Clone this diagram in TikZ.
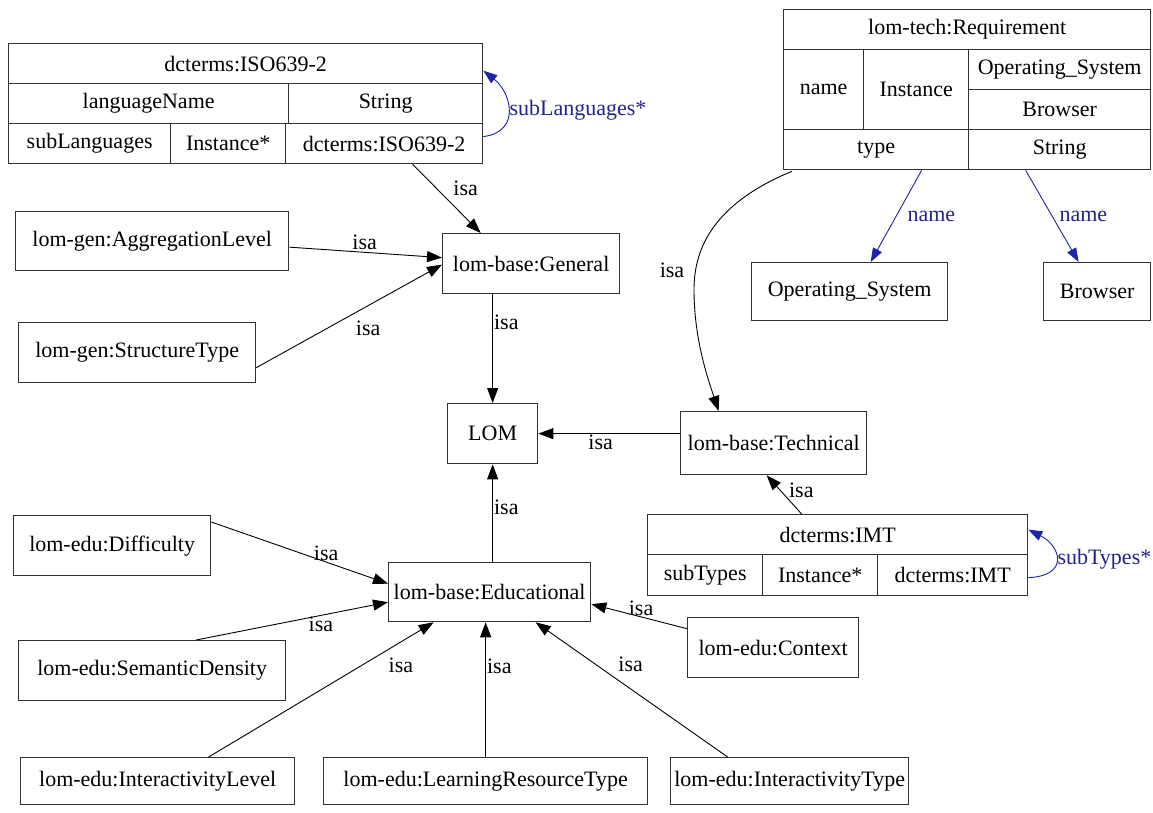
\documentclass[tikz,border=0pt]{standalone}
\usepackage{fontspec}
\setmainfont{Liberation Serif}
\usetikzlibrary{arrows.meta}
\definecolor{edgeblue}{RGB}{28,36,168}
\definecolor{labelblue}{RGB}{35,35,140}
\definecolor{boxline}{RGB}{50,50,50}

\begin{document}
\begin{tikzpicture}[x=1pt,y=-1pt,
  every node/.style={font=\fontsize{22}{26}\selectfont},
  box/.style={draw=boxline, line width=1.3pt, rectangle, inner sep=0pt, anchor=north west},
  isa/.style={draw=black, line width=0.9pt, -{Triangle[length=15pt,width=11pt]}},
  has/.style={draw=edgeblue, line width=0.9pt, -{Triangle[length=14pt,width=10pt]}},
  elabel/.style={inner sep=1pt, text=black},
  blabel/.style={inner sep=1pt, text=labelblue},
]
\useasboundingbox[fill=white] (0,0) rectangle (1153,813);

% --- dcterms:ISO639-2 record
\node[box, minimum width=474pt, minimum height=40pt] (isoH)  at (8,43)    {dcterms:ISO639-2};
\node[box, minimum width=280pt, minimum height=40pt] (isoA)  at (8,83)    {languageName};
\node[box, minimum width=194pt, minimum height=40pt] (isoB)  at (288,83)  {String};
\node[box, minimum width=162pt, minimum height=40pt] (isoC1) at (8,123)   {subLanguages};
\node[box, minimum width=115pt, minimum height=40pt] (isoC2) at (170,123) {Instance*};
\node[box, minimum width=197pt, minimum height=40pt] (isoC3) at (285,123) {dcterms:ISO639-2};

% --- lom-tech:Requirement record
\node[box, minimum width=367pt, minimum height=40pt] (reqH)    at (783,9)   {lom-tech:Requirement};
\node[box, minimum width=80pt,  minimum height=80pt] (reqName) at (783,49)  {name};
\node[box, minimum width=105pt, minimum height=80pt] (reqInst) at (863,49)  {Instance};
\node[box, minimum width=182pt, minimum height=40pt] (reqOS)   at (968,49)  {Operating\_System};
\node[box, minimum width=182pt, minimum height=40pt] (reqBr)   at (968,89)  {Browser};
\node[box, minimum width=185pt, minimum height=40pt] (reqType) at (783,129) {type};
\node[box, minimum width=182pt, minimum height=40pt] (reqStr)  at (968,129) {String};

% --- dcterms:IMT record
\node[box, minimum width=380pt, minimum height=40pt] (imtH) at (647,514) {dcterms:IMT};
\node[box, minimum width=115pt, minimum height=41pt] (imtA) at (647,554) {subTypes};
\node[box, minimum width=115pt, minimum height=41pt] (imtB) at (762,554) {Instance*};
\node[box, minimum width=150pt, minimum height=41pt] (imtC) at (877,554) {dcterms:IMT};

% --- plain classes
\node[box, minimum width=196pt, minimum height=58pt] (ossys)       at (751,262)  {Operating\_System};
\node[box, minimum width=107pt, minimum height=58pt] (browser)     at (1043,262) {Browser};
\node[box, minimum width=273pt, minimum height=59pt] (agg)         at (15,211)   {lom-gen:AggregationLevel};
\node[box, minimum width=237pt, minimum height=60pt] (struct)      at (18,322)   {lom-gen:StructureType};
\node[box, minimum width=177pt, minimum height=60pt] (general)     at (442,233)  {lom-base:General};
\node[box, minimum width=90pt,  minimum height=60pt] (lom)         at (447,403)  {LOM};
\node[box, minimum width=186pt, minimum height=63pt] (technical)   at (680,411)  {lom-base:Technical};
\node[box, minimum width=197pt, minimum height=60pt] (difficulty)  at (13,515)   {lom-edu:Difficulty};
\node[box, minimum width=267pt, minimum height=60pt] (semdens)     at (18,640)   {lom-edu:SemanticDensity};
\node[box, minimum width=202pt, minimum height=59pt] (educational) at (388,562)  {lom-base:Educational};
\node[box, minimum width=171pt, minimum height=60pt] (context)     at (687,617)  {lom-edu:Context};
\node[box, minimum width=274pt, minimum height=47pt] (intlevel)    at (20,757)   {lom-edu:InteractivityLevel};
\node[box, minimum width=324pt, minimum height=47pt] (lrt)         at (323,757)  {lom-edu:LearningResourceType};
\node[box, minimum width=238pt, minimum height=47pt] (inttype)     at (670,757)  {lom-edu:InteractivityType};

% --- isa edges into lom-base:General
\draw[isa] ([xshift=28.5pt]isoC3.south) -- node[elabel, shift={(19,-10)}] {isa} ([xshift=-50.5pt]general.north);
\draw[isa] ([yshift=-6pt]agg.east) -- node[elabel, shift={(-1,-10.5)}] {isa} ([yshift=6pt]general.west);
\draw[isa] ([yshift=-15pt]struct.east) -- node[elabel, shift={(19,12)}] {isa} ([yshift=-1pt]general.west);

% --- isa edges into LOM
\draw[isa] (lom.north |- general.south) -- node[elabel, pos=0.26, anchor=west] {isa} (lom.north);
\draw[isa] (technical.west |- lom.east) -- node[elabel, pos=0.56, below] {isa} (lom.east);
\draw[isa] (lom.south |- educational.north) -- node[elabel, pos=0.556, anchor=west] {isa} (lom.south);

% --- isa edges into lom-base:Technical
\coordinate (reqBend) at (694,290);
\draw[isa] ([xshift=9pt,yshift=-1pt]reqType.south west) .. controls +(-85,35) and +(0,-35) .. (reqBend)
  node[elabel, shift={(-22,-20)}] {isa}
  .. controls +(0,50) and +(-10,-30) .. ([xshift=-55pt]technical.north);
\draw[isa] ([xshift=-36pt]imtH.north) -- node[elabel, pos=0.6, anchor=west, xshift=7pt] {isa} ([xshift=-7pt]technical.south);

% --- attribute edges (blue)
\draw[has] ([xshift=45.5pt]reqType.south) -- node[blabel, anchor=west, xshift=10pt] {name} ([xshift=21pt]ossys.north);
\draw[has] ([xshift=-34pt]reqStr.south) -- node[blabel, anchor=west, xshift=6pt] {name} ([xshift=-18.5pt]browser.north);
\draw[has] ([yshift=7pt]isoC3.east) .. controls +(38,-5) and +(28,22) .. node[blabel, pos=0.5, anchor=west] {subLanguages*} ([yshift=-7pt]isoH.east);
\draw[has] ([yshift=-2.5pt]imtC.east) .. controls +(42,-2) and +(32,16) .. node[blabel, pos=0.5, anchor=west] {subTypes*} ([yshift=5pt]imtH.east);

% --- isa edges into lom-base:Educational
\draw[isa] ([yshift=-7pt]difficulty.north east) -- node[elabel, pos=0.65, above] {isa} ([yshift=8.5pt]educational.west);
\draw[isa] ([xshift=44pt]semdens.north) -- node[elabel, pos=0.65, below] {isa} ([yshift=-10pt]educational.west);
\draw[isa] ([xshift=51pt]intlevel.north) -- node[elabel, pos=0.85, shift={(1,23)}] {isa} ([xshift=-56pt]educational.south);
\draw[isa] (lrt.north) -- node[elabel, pos=0.676, anchor=west] {isa} (lrt.north |- educational.south);
\draw[isa] ([xshift=-62pt]inttype.north) -- node[elabel, pos=0.5, shift={(-1,-25)}] {isa} ([xshift=46pt]educational.south);
\draw[isa] ([yshift=19pt]context.west) -- node[elabel, pos=0.48, above] {isa} ([yshift=-12pt]educational.east);
\end{tikzpicture}
\end{document}
